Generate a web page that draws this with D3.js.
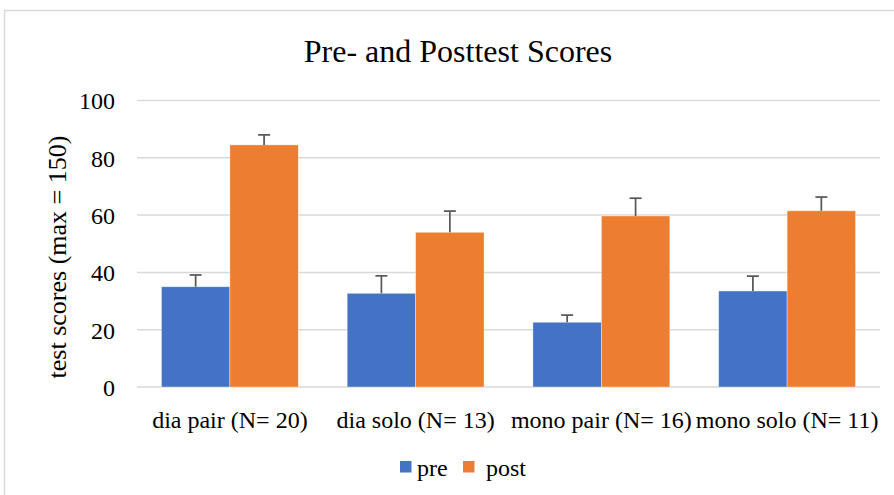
<!DOCTYPE html>
<html>
<head>
<meta charset="utf-8">
<script src="https://cdn.jsdelivr.net/npm/d3@7"></script>
<style>
  body { margin: 0; background: #fff; }
  svg text { font-family: "Liberation Serif", "Times New Roman", serif; fill: #000; }
</style>
</head>
<body>
<div id="chart"></div>
<script>
// Dados
const categories = ['dia pair (N= 20)', 'dia solo (N= 13)', 'mono pair (N= 16)', 'mono solo (N= 11)'];
const series = ['pre', 'post'];
const preValues = [35.0, 32.7, 22.6, 33.5];
const postValues = [84.5, 54.0, 59.7, 61.5];
const preErrors = [4.1, 6.1, 2.5, 5.2];
const postErrors = [3.5, 7.4, 6.2, 4.8];
const yTicks = [0, 20, 40, 60, 80, 100];

const W = 894, H = 495;
const margin = { top: 100.5, right: 14, bottom: 108, left: 137 };
const width = W - margin.left - margin.right;
const height = H - margin.top - margin.bottom;

const svg = d3.select('#chart').append('svg')
  .attr('width', W)
  .attr('height', H);

// Moldura do gráfico
svg.append('rect')
  .attr('x', 4.5).attr('y', 10.5)
  .attr('width', W + 10).attr('height', H + 10)
  .attr('fill', 'none')
  .attr('stroke', '#d9d9d9')
  .attr('stroke-width', 1.5);

// Título
svg.append('text')
  .attr('x', 458)
  .attr('y', 62)
  .style('text-anchor', 'middle')
  .style('font-size', '32px')
  .text('Pre- and Posttest Scores');

const g = svg.append('g')
  .attr('transform', `translate(${margin.left},${margin.top})`);

// Escalas
const x0 = d3.scaleBand()
  .domain(categories)
  .range([0, width])
  .paddingInner(0.263)
  .paddingOuter(0.1315);

const x1 = d3.scaleBand()
  .domain(series)
  .range([0, x0.bandwidth()]);

const y = d3.scaleLinear()
  .domain([0, 100])
  .range([height, 0]);

const color = d3.scaleOrdinal()
  .domain(series)
  .range(['#4472C4', '#ED7D31']);

// Linhas de grade
g.append('g')
  .selectAll('line')
  .data(yTicks)
  .enter()
  .append('line')
  .attr('x1', 0)
  .attr('x2', width)
  .attr('y1', d => y(d))
  .attr('y2', d => y(d))
  .attr('stroke', '#d9d9d9')
  .attr('stroke-width', 1.5);

// Eixo Y
const yAxis = g.append('g')
  .call(d3.axisLeft(y).tickValues(yTicks).tickSize(0).tickPadding(22));
yAxis.select('.domain').remove();
yAxis.selectAll('text')
  .style('font-size', '24px')
  .style('font-family', '"Liberation Serif", serif')
  .attr('dy', '0.35em');

// Eixo X
const xAxis = g.append('g')
  .attr('transform', `translate(0,${height})`)
  .call(d3.axisBottom(x0).tickSize(0).tickPadding(24));
xAxis.select('.domain').remove();
xAxis.selectAll('text')
  .style('font-size', '24px')
  .style('font-family', '"Liberation Serif", serif');

// Título do eixo Y
svg.append('text')
  .attr('transform', 'rotate(-90)')
  .attr('x', -257)
  .attr('y', 66)
  .style('text-anchor', 'middle')
  .style('font-family', '"Liberation Serif", serif')
  .style('font-size', '26px')
  .text('test scores (max = 150)');

// Barras
const rows = categories.map((c, i) => ({
  category: c,
  values: [
    { key: 'pre', value: preValues[i], err: preErrors[i] },
    { key: 'post', value: postValues[i], err: postErrors[i] }
  ]
}));

const groups = g.selectAll('.group')
  .data(rows)
  .enter()
  .append('g')
  .attr('class', 'group')
  .attr('transform', d => `translate(${x0(d.category)},0)`);

groups.selectAll('rect')
  .data(d => d.values)
  .enter()
  .append('rect')
  .attr('x', d => x1(d.key))
  .attr('y', d => y(d.value))
  .attr('width', x1.bandwidth())
  .attr('height', d => height - y(d.value))
  .attr('fill', d => color(d.key))
  .attr('stroke', '#ffffff')
  .attr('stroke-opacity', 0.5)
  .attr('stroke-width', 0.75);

// Barras de erro (só para cima)
const errs = groups.selectAll('.err')
  .data(d => d.values)
  .enter()
  .append('g')
  .attr('class', 'err')
  .attr('stroke', '#595959')
  .attr('stroke-width', 1.75);

errs.append('line')
  .attr('x1', d => x1(d.key) + x1.bandwidth() / 2)
  .attr('x2', d => x1(d.key) + x1.bandwidth() / 2)
  .attr('y1', d => y(d.value))
  .attr('y2', d => y(d.value + d.err));

errs.append('line')
  .attr('x1', d => x1(d.key) + x1.bandwidth() / 2 - 6)
  .attr('x2', d => x1(d.key) + x1.bandwidth() / 2 + 6)
  .attr('y1', d => y(d.value + d.err))
  .attr('y2', d => y(d.value + d.err));

// Legenda
const legend = svg.append('g')
  .attr('transform', 'translate(400,461)');

const legendX = [0, 63];
series.forEach((s, i) => {
  legend.append('rect')
    .attr('x', legendX[i])
    .attr('y', 0)
    .attr('width', 11.5)
    .attr('height', 11.5)
    .attr('fill', color(s));
  legend.append('text')
    .attr('x', legendX[i] + (i === 0 ? 17 : 23))
    .attr('y', 15)
    .style('font-size', '24px')
    .text(s);
});
</script>
</body>
</html>
